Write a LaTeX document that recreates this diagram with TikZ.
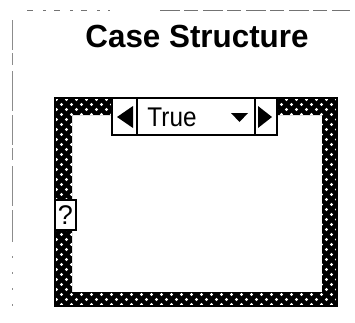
\documentclass[tikz,border=0pt]{standalone}
\usepackage{fontspec}
\setmainfont{Liberation Sans}
\begin{document}
\begin{tikzpicture}[x=1pt,y=-1pt,
  blk/.style={draw=black,line width=2pt},
  seg/.style={draw=black,line width=1.6pt,fill=white},
  tri/.style={fill=black},
  scan/.style={draw=black!55,line width=1pt}]
\useasboundingbox (0,0) rectangle (355,322);
% faint scan marks
\draw[scan,dash pattern=on 6pt off 10pt on 3pt off 8pt] (27,10) -- (110,10);
\draw[scan,dash pattern=on 20pt off 4pt on 14pt off 5pt] (160,10) -- (350,10);
\draw[scan,draw=black!45,dash pattern=on 30pt off 3pt on 12pt off 6pt on 40pt off 4pt] (12,20) -- (12,240);
\draw[scan,draw=black!45,dash pattern=on 2pt off 14pt] (12,240) -- (12,310);
% patterned frame
\begin{scope}[even odd rule]
  \clip (55,98) rectangle (337,306) (72,115) rectangle (322,292);
  \fill[black] (55,98) rectangle (337,306);
  \foreach \i in {0,...,57}{
    \foreach \j in {0,...,42}{
      \pgfmathtruncatemacro{\pp}{mod(\i+\j,2)}
      \ifnum\pp=0
        \fill[white] (55+5*\i+1.5,98+5*\j+1.5) circle (1.7);
      \fi
    }
  }
\end{scope}
\draw[blk] (55,98) rectangle (337,306);
% selector
\draw[seg] (112,98) rectangle (277,135);
\draw[black,line width=1.6pt] (137,98) -- (137,135) (255,98) -- (255,135);
\fill[tri] (117,117) -- (133,106) -- (133,128) -- cycle;
\fill[tri] (272,117) -- (258,106) -- (258,128) -- cycle;
\fill[tri] (231,113) -- (248,113) -- (239.5,122) -- cycle;
\node[inner sep=0,anchor=center,font=\fontsize{27}{28}\selectfont,xscale=0.9] (lbl) at (172,117) {True};
% selector terminal
\draw[seg,line width=1.4pt] (55,200) rectangle (76,230);
\node[inner sep=0,font=\fontsize{27}{28}\selectfont] (q) at (65.5,215) {?};
% title
\node[inner sep=0,font=\bfseries\fontsize{32}{34}\selectfont,xscale=0.98] (title) at (197,36) {Case Structure};
\end{tikzpicture}
\end{document}
